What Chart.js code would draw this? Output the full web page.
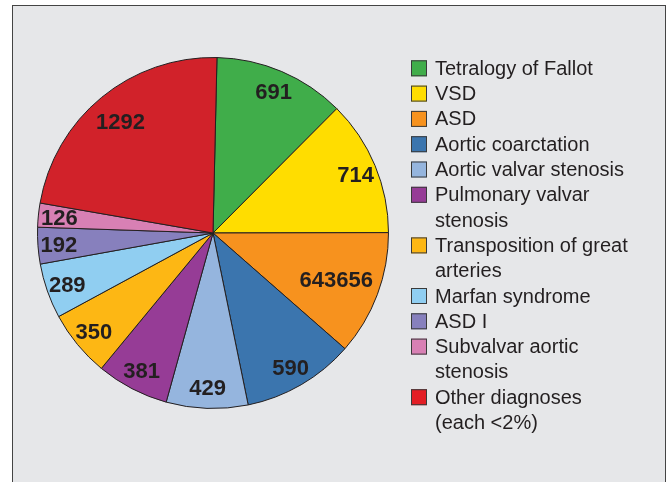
<!DOCTYPE html>
<html>
<head>
<meta charset="utf-8">
<script src="https://cdn.jsdelivr.net/npm/chart.js@4"></script>
<style>
  html, body { margin: 0; padding: 0; background: #fff; }
  #wrap { position: relative; width: 672px; height: 482px; overflow: hidden; }
  #frame {
    position: absolute; left: 12px; top: 5px; width: 652px; height: 500px;
    background: #e6e7e9; border: 1.5px solid #444; border-bottom: none;
  }
  #pie { position: absolute; left: 0; top: 0; }
</style>
</head>
<body>
<div id="wrap">
  <div id="frame"></div>
  <canvas id="pie" width="672" height="482"></canvas>
</div>
<script>
/* -------- Daten -------- */
const categories = [
  "Tetralogy of Fallot",
  "VSD",
  "ASD",
  "Aortic coarctation",
  "Aortic valvar stenosis",
  ["Pulmonary valvar", "stenosis"],
  ["Transposition of great", "arteries"],
  "Marfan syndrome",
  "ASD I",
  ["Subvalvar aortic", "stenosis"],
  ["Other diagnoses", "(each <2%)"]
];
const counts = [691, 714, 656, 590, 429, 381, 350, 289, 192, 126, 1292];
// text printed in the slices (the ASD slice reads "643656" in the original)
const sliceLabels = ["691", "714", "643656", "590", "429", "381", "350", "289", "192", "126", "1292"];
const sliceColors = [
  "#40ad4a", "#ffdd00", "#f7921e", "#3b75ae", "#95b5de", "#963c96",
  "#fdb714", "#90cef1", "#8780bd", "#d880b4", "#d1222a"
];
const legendColors = [
  "#40ad4a", "#ffdd00", "#f7921e", "#3b75ae", "#95b5de", "#963c96",
  "#fdb714", "#90cef1", "#8780bd", "#d880b4", "#e31e25"
];

const TEXT = "#231f20";

/* -------- Zahlen in den Segmenten -------- */
const sliceLabelPlugin = {
  id: "sliceLabels",
  afterDatasetsDraw(chart) {
    const ctx = chart.ctx;
    const arcs = chart.getDatasetMeta(0).data;
    ctx.save();
    ctx.font = "bold 22px 'Liberation Sans', Arial, sans-serif";
    ctx.fillStyle = TEXT;
    ctx.textAlign = "center";
    ctx.textBaseline = "middle";
    arcs.forEach((arc, i) => {
      const { x, y, startAngle, endAngle, outerRadius } = arc.getProps(["x", "y", "startAngle", "endAngle", "outerRadius"], true);
      const mid = (startAngle + endAngle) / 2;
      const txt = sliceLabels[i];
      const w = ctx.measureText(txt).width;
      // breite Zahlen etwas weiter nach innen
      const f = w > 60 ? 0.75 : (w > 45 ? 0.83 : 0.88);
      const r = outerRadius * f;
      ctx.fillText(txt, x + Math.cos(mid) * r, y + Math.sin(mid) * r + 2);
    });
    ctx.restore();
  }
};

/* -------- Legende rechts -------- */
const sideLegendPlugin = {
  id: "sideLegend",
  afterDraw(chart) {
    const ctx = chart.ctx;
    const boxX = 411, textX = 435, lineH = 25.3;
    let y = 68.3;
    ctx.save();
    ctx.font = "20px 'Liberation Sans', Arial, sans-serif";
    ctx.textBaseline = "middle";
    categories.forEach((cat, i) => {
      const lines = Array.isArray(cat) ? cat : [cat];
      ctx.fillStyle = legendColors[i];
      ctx.fillRect(boxX, y - 8, 16, 16);
      ctx.strokeStyle = "#3a3a3a";
      ctx.lineWidth = 1;
      ctx.strokeRect(boxX + 0.5, y - 7.5, 15, 15);
      ctx.fillStyle = TEXT;
      lines.forEach((ln, j) => ctx.fillText(ln, textX, y + j * lineH + 1));
      y += lines.length * lineH;
    });
    ctx.restore();
  }
};

new Chart(document.getElementById("pie"), {
  type: "pie",
  data: {
    labels: categories.map(c => Array.isArray(c) ? c.join(" ") : c),
    datasets: [{
      data: counts,
      backgroundColor: sliceColors,
      borderColor: TEXT,
      borderWidth: 1
    }]
  },
  options: {
    responsive: false,
    animation: false,
    rotation: 1.3,
    layout: { padding: { left: 37, right: 283, top: 57, bottom: 73 } },
    plugins: {
      legend: { display: false },
      tooltip: { enabled: false }
    }
  },
  plugins: [sliceLabelPlugin, sideLegendPlugin]
});
</script>
</body>
</html>
